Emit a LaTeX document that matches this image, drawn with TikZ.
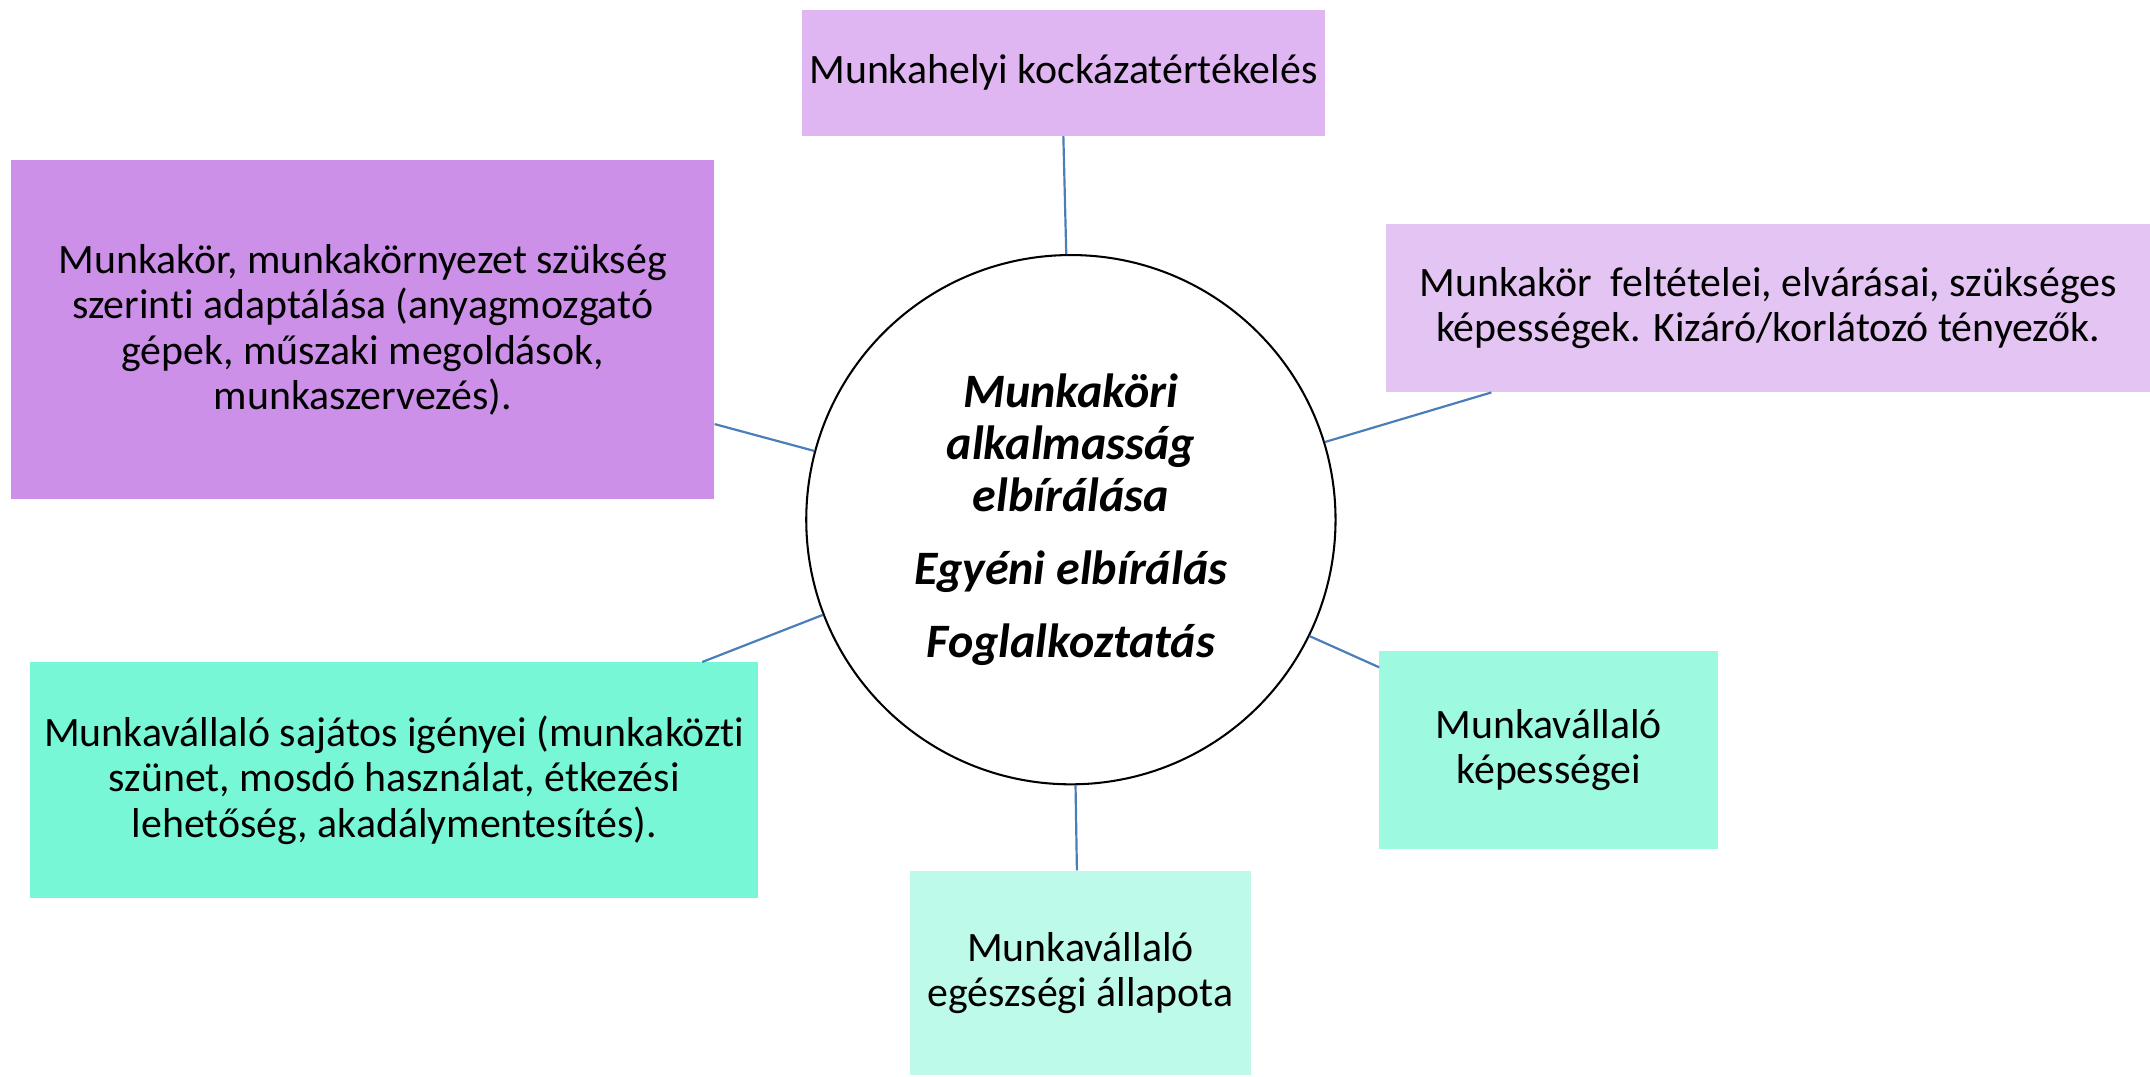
\documentclass[tikz,border=0pt]{standalone}
\usepackage{fontspec}
\setmainfont{Carlito}[Ligatures=NoCommon]
\usepackage{xcolor}
\definecolor{lilaVilagos}{HTML}{DFB6F1}
\definecolor{lilaKozep}{HTML}{CC90E8}
\definecolor{lilaHalvany}{HTML}{E3C4F3}
\definecolor{zoldEros}{HTML}{77F7D6}
\definecolor{zoldKozep}{HTML}{9DF9E0}
\definecolor{zoldHalvany}{HTML}{BDFAE9}
\definecolor{vonalkek}{HTML}{4A7EBB}

\begin{document}
\begin{tikzpicture}[x=1pt,y=-1pt,
    doboz/.style={rectangle, inner sep=0pt, align=center, font=\fontsize{30.5}{33}\selectfont},
    vonal/.style={draw=vonalkek, line width=1.6pt}]
    \useasboundingbox (0,0) rectangle (1568,785);

    \node[draw, circle, line width=1.5pt, minimum size=386pt, inner sep=0pt, align=center,
        font=\fontsize{35}{38}\selectfont\bfseries\itshape] (kozep) at (781,379)
        {Munkaköri\\alkalmasság\\elbírálása\\[15pt]Egyéni elbírálás\\[15pt]Foglalkoztatás};

    \node[doboz, fill=lilaVilagos, minimum width=381pt, minimum height=92pt] (kockazat) at (775.5,53) {Munkahelyi kockázatértékelés};
    \node[doboz, fill=lilaKozep, minimum width=513pt, minimum height=247pt] (adaptalas) at (264.5,240.5)
        {Munkakör, munkakörnyezet szükség\\szerinti adaptálása (anyagmozgató\\gépek, műszaki megoldások,\\munkaszervezés).};
    \node[doboz, fill=lilaHalvany, minimum width=557pt, minimum height=123pt] (feltetelek) at (1289.5,224.5)
        {Munkakör\ \ feltételei, elvárásai, szükséges\\képességek. Kizáró/korlátozó tényezők.};
    \node[doboz, fill=zoldEros, minimum width=531pt, minimum height=172pt] (igenyek) at (287.5,569)
        {Munkavállaló sajátos igényei (munkaközti\\szünet, mosdó használat, étkezési\\lehetőség, akadálymentesítés).};
    \node[doboz, fill=zoldKozep, minimum width=247pt, minimum height=144pt] (kepessegek) at (1129.5,547)
        {Munkavállaló\\képességei};
    \node[doboz, fill=zoldHalvany, minimum width=248pt, minimum height=149pt] (egeszseg) at (788,709.5)
        {Munkavállaló\\egészségi állapota};

    \draw[vonal] (kockazat.south) -- (kozep.91);
    \draw[vonal] (adaptalas.-15) -- (kozep.165);
    \draw[vonal] (feltetelek.197) -- (kozep.17);
    \draw[vonal] (igenyek.21) -- (kozep.201);
    \draw[vonal] (kepessegek.154) -- (kozep.334);
    \draw[vonal] (egeszseg.92) -- (kozep.271);
\end{tikzpicture}
\end{document}
